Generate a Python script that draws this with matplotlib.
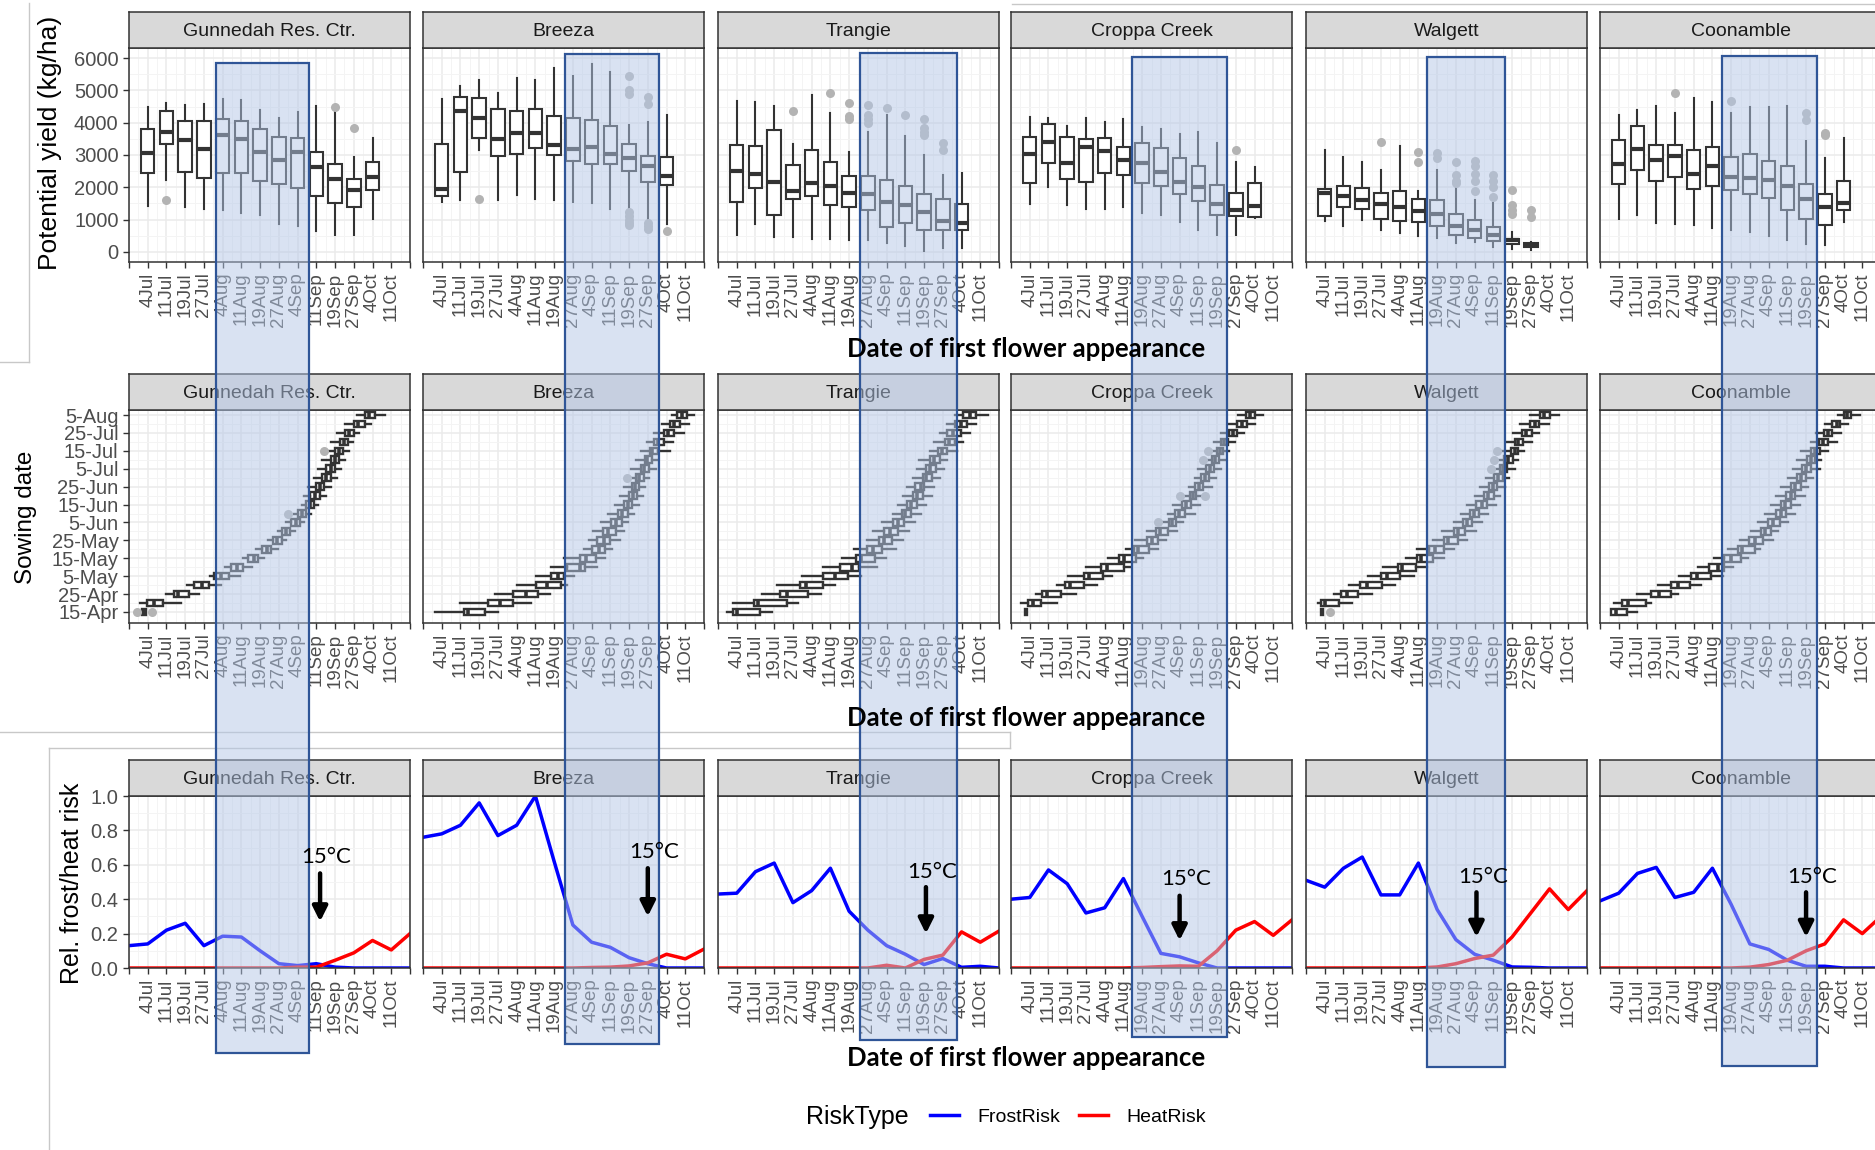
import matplotlib
matplotlib.use("Agg")
import matplotlib.pyplot as plt
import matplotlib.transforms as mtransforms
from matplotlib.patches import Rectangle, FancyArrowPatch
from matplotlib.lines import Line2D
import numpy as np

plt.rcParams['font.family'] = ['Liberation Sans', 'DejaVu Sans']

# ---------------- data ----------------
sites = ['Gunnedah Res. Ctr.', 'Breeza', 'Trangie', 'Croppa Creek', 'Walgett', 'Coonamble']
flower_dates = ['4Jul', '11Jul', '19Jul', '27Jul', '4Aug', '11Aug', '19Aug', '27Aug',
                '4Sep', '11Sep', '19Sep', '27Sep', '4Oct', '11Oct']
sowing_ticks = ['15-Apr', '25-Apr', '5-May', '15-May', '25-May', '5-Jun', '15-Jun',
                '25-Jun', '5-Jul', '15-Jul', '25-Jul', '5-Aug']
risk_types = ['FrostRisk', 'HeatRisk']

# potential yield boxes (kg/ha): (whisker low, q1, median, q3, whisker high), one per flowering date
gunnedah_yield = [(1420, 2430, 3050, 3800, 4500), (2240, 3340, 3720, 4360, 4620),
                  (1400, 2460, 3460, 4060, 4550), (1340, 2300, 3200, 4060, 4570),
                  (1310, 2430, 3620, 4120, 4730), (1210, 2430, 3480, 4060, 4700),
                  (1150, 2200, 3100, 3800, 4380), (860, 2100, 2840, 3570, 4140),
                  (800, 1990, 3080, 3520, 4340), (640, 1740, 2640, 3100, 4520),
                  (520, 1500, 2270, 2710, 4400), (520, 1400, 1910, 2250, 2950),
                  (1030, 1930, 2330, 2770, 3540)]
breeza_yield = [(1550, 1730, 1940, 3340, 4730), (1620, 2470, 4350, 4780, 5120),
                (3140, 3530, 4160, 4760, 5310), (1620, 2970, 3480, 4410, 4930),
                (1770, 3040, 3670, 4350, 5390), (1630, 3220, 3670, 4420, 5310),
                (1600, 3000, 3310, 4220, 5700), (1550, 2810, 3190, 4140, 5450),
                (1500, 2730, 3240, 4090, 5800), (1320, 2730, 3040, 3910, 5580),
                (1240, 2520, 2910, 3340, 3940), (985, 2160, 2650, 2960, 4030),
                (880, 2060, 2340, 2950, 4250)]
trangie_yield = [(540, 1550, 2500, 3310, 4670), (860, 1990, 2400, 3290, 4630),
                 (470, 1140, 2170, 3770, 4520), (470, 1630, 1890, 2700, 3340),
                 (410, 1730, 2140, 3150, 4860), (410, 1450, 2040, 2790, 4290),
                 (380, 1400, 1830, 2350, 3080), (380, 1290, 1790, 2350, 3700),
                 (280, 780, 1550, 2220, 4240), (180, 900, 1450, 2040, 3590),
                 (30, 690, 1240, 1780, 2990), (130, 690, 950, 1630, 2380),
                 (130, 670, 900, 1480, 2450)]
croppa_yield = [(1470, 2120, 3030, 3570, 4170), (2020, 2760, 3390, 3960, 4140),
                (1450, 2250, 2740, 3570, 3900), (1340, 2150, 3240, 3480, 4160),
                (1340, 2430, 3120, 3540, 4030), (1400, 2380, 2840, 3260, 4100),
                (1220, 2120, 2760, 3380, 3880), (1140, 2040, 2480, 3210, 3810),
                (930, 1790, 2170, 2920, 3640), (690, 1570, 2000, 2670, 3700),
                (520, 1140, 1470, 2070, 3360), (520, 1110, 1290, 1830, 2790),
                (1050, 1090, 1420, 2140, 2640)]
walgett_yield = [(960, 1110, 1830, 1960, 3150), (800, 1400, 1740, 2050, 2930),
                 (980, 1320, 1600, 1990, 2770), (690, 1030, 1480, 1830, 2550),
                 (600, 950, 1400, 1880, 3280), (500, 930, 1270, 1630, 1880),
                 (440, 800, 1170, 1600, 2550), (280, 540, 800, 1170, 2000),
                 (310, 440, 670, 980, 1620), (160, 340, 520, 780, 1530),
                 (100, 260, 360, 410, 620), (70, 160, 230, 290, 310)]
coonamble_yield = [(1030, 2090, 2710, 3460, 4240), (1140, 2530, 3180, 3900, 4400),
                   (900, 2190, 2860, 3310, 4520), (880, 2330, 2970, 3310, 4310),
                   (830, 1960, 2410, 3150, 4760), (740, 2050, 2670, 3260, 4650),
                   (670, 1910, 2330, 2950, 4290), (620, 1780, 2300, 3030, 4480),
                   (490, 1680, 2220, 2820, 4480), (360, 1310, 2040, 2670, 4520),
                   (240, 1030, 1630, 2090, 3440), (230, 830, 1400, 1780, 2900),
                   (930, 1310, 1500, 2190, 3520)]

# yield outliers: (flowering date number, kg/ha)
gunnedah_yield_out = [(2, 1600), (11, 4500), (12, 3850)]
breeza_yield_out = [(3, 1650), (11, 5450), (11, 5000), (11, 4900), (11, 1250), (11, 1100),
                    (11, 1000), (11, 900), (11, 850), (12, 4780), (12, 4570), (12, 900),
                    (12, 800), (12, 700), (13, 650)]
trangie_yield_out = [(4, 4370), (6, 4910), (7, 4600), (7, 4200), (7, 4100), (8, 4550),
                     (8, 4250), (8, 4100), (8, 4000), (9, 4450), (10, 4240), (11, 4100),
                     (11, 3830), (11, 3700), (11, 3620), (12, 3380), (12, 3150)]
croppa_yield_out = [(12, 3150)]
walgett_yield_out = [(4, 3410), (6, 3100), (6, 2790), (7, 3050), (7, 2900), (8, 2770),
                     (8, 2380), (8, 2200), (8, 2120), (9, 2800), (9, 2650), (9, 2400),
                     (9, 2200), (9, 1900), (10, 2380), (10, 2200), (10, 2000), (10, 1700),
                     (11, 1930), (11, 1450), (11, 1300), (11, 1190), (12, 1310), (12, 1090)]
coonamble_yield_out = [(4, 4930), (7, 4670), (11, 4290), (11, 4090), (12, 3670), (12, 3620)]

# flowering date (position on the date axis) per sowing date, 15-Apr .. 5-Aug every 5 days
gunnedah_sow = [(0.71, 0.71, 0.82, 0.93, 0.93), (0.60, 0.96, 1.32, 1.79, 2.80),
                (1.97, 2.40, 2.59, 3.20, 3.74), (3.09, 3.48, 3.89, 4.28, 4.92),
                (4.34, 4.54, 4.92, 5.36, 5.90), (5.14, 5.42, 5.79, 6.11, 6.54),
                (6.07, 6.37, 6.65, 6.87, 7.19), (6.76, 7.08, 7.34, 7.58, 7.95),
                (7.41, 7.69, 7.90, 8.16, 8.38), (7.95, 8.16, 8.38, 8.60, 8.88),
                (8.38, 8.66, 8.92, 9.14, 9.35), (8.81, 9.03, 9.24, 9.46, 9.74),
                (9.24, 9.46, 9.68, 9.89, 10.10), (9.35, 9.68, 9.94, 10.22, 10.54),
                (9.57, 10.00, 10.22, 10.43, 10.76), (9.89, 10.32, 10.54, 10.76, 11.08),
                (10.11, 10.54, 10.76, 10.97, 11.30), (10.32, 10.76, 10.97, 11.19, 11.51),
                (10.65, 10.97, 11.19, 11.40, 11.73), (10.76, 11.25, 11.47, 11.68, 11.94),
                (11.08, 11.55, 11.77, 11.99, 12.27), (11.55, 11.99, 12.20, 12.59, 12.92),
                (12.16, 12.59, 12.81, 13.13, 13.67)]
breeza_sow = [(0.65, 2.20, 2.41, 3.31, 4.02), (1.98, 3.47, 4.12, 4.80, 5.78),
              (3.82, 4.80, 5.51, 6.12, 6.80), (5.00, 6.02, 6.63, 7.35, 7.69),
              (6.02, 6.84, 7.20, 7.55, 8.06), (6.84, 7.69, 8.37, 8.67, 9.29),
              (7.55, 8.37, 8.71, 9.22, 9.69), (8.57, 9.04, 9.39, 9.69, 10.10),
              (8.88, 9.29, 9.65, 10.00, 10.50), (9.08, 9.59, 9.86, 10.31, 10.71),
              (9.49, 10.06, 10.31, 10.61, 10.92), (9.90, 10.41, 10.61, 10.92, 11.29),
              (10.27, 10.71, 10.92, 11.16, 11.53), (10.51, 11.02, 11.22, 11.43, 11.73),
              (10.71, 11.16, 11.33, 11.53, 11.84), (10.92, 11.37, 11.53, 11.78, 12.04),
              (11.12, 11.63, 11.78, 12.04, 12.45), (11.37, 11.84, 11.98, 12.24, 12.55),
              (11.63, 12.10, 12.24, 12.55, 13.16), (11.94, 12.35, 12.55, 12.86, 13.37),
              (12.35, 12.86, 13.06, 13.41, 13.94), (12.76, 13.16, 13.41, 13.73, 14.18),
              (13.27, 13.57, 13.82, 14.08, 14.49)]
trangie_sow = [(0.47, 0.82, 1.02, 2.24, 2.86), (0.82, 1.94, 2.14, 3.67, 4.29),
               (2.35, 3.33, 3.67, 4.80, 5.51), (3.16, 4.39, 4.69, 5.61, 6.22),
               (4.49, 5.61, 6.22, 6.94, 7.65), (5.61, 6.53, 7.14, 7.55, 8.47),
               (6.63, 7.35, 7.61, 8.37, 8.98), (7.24, 7.96, 8.27, 8.78, 9.49),
               (7.96, 8.57, 8.88, 9.29, 9.90), (8.27, 8.88, 9.18, 9.59, 10.20),
               (8.78, 9.33, 9.59, 9.94, 10.51), (9.33, 9.80, 10.00, 10.31, 10.82),
               (9.59, 10.10, 10.31, 10.61, 11.12), (9.90, 10.41, 10.61, 10.92, 11.43),
               (10.10, 10.51, 10.82, 11.02, 11.53), (10.41, 10.92, 11.12, 11.43, 11.84),
               (10.61, 11.12, 11.33, 11.63, 12.04), (10.71, 11.33, 11.53, 11.84, 12.24),
               (11.33, 11.73, 11.98, 12.24, 12.76), (11.53, 12.14, 12.35, 12.65, 13.06),
               (11.84, 12.24, 12.55, 12.96, 13.47), (12.24, 12.65, 12.96, 13.27, 13.78),
               (12.65, 13.06, 13.47, 13.78, 14.39)]
croppa_sow = [(0.76, 0.76, 0.82, 0.88, 0.88), (0.51, 0.92, 1.18, 1.59, 2.45),
              (1.33, 1.67, 1.94, 2.65, 3.47), (2.45, 2.90, 3.16, 3.92, 4.59),
              (3.06, 3.88, 4.18, 4.90, 5.41), (3.98, 4.80, 5.10, 6.02, 6.43),
              (5.20, 5.76, 6.02, 6.69, 7.04), (6.12, 6.57, 6.78, 7.35, 7.86),
              (6.63, 7.24, 7.55, 7.86, 8.27), (7.24, 7.76, 7.96, 8.37, 8.88),
              (8.06, 8.41, 8.61, 8.82, 9.18), (8.37, 8.73, 8.98, 9.29, 9.80),
              (8.67, 9.14, 9.35, 9.59, 10.10), (9.18, 9.55, 9.73, 9.90, 10.41),
              (9.49, 9.84, 10.04, 10.24, 10.71), (9.80, 10.16, 10.37, 10.57, 10.92),
              (10.00, 10.41, 10.61, 10.82, 11.22), (10.31, 10.71, 10.88, 11.12, 11.43),
              (10.51, 10.98, 11.16, 11.33, 11.63), (10.82, 11.22, 11.39, 11.59, 11.94),
              (11.22, 11.63, 11.84, 12.08, 12.45), (11.63, 12.08, 12.35, 12.61, 13.02),
              (12.14, 12.55, 12.76, 13.02, 13.47)]
walgett_sow = [(0.80, 0.80, 0.86, 0.93, 0.93), (0.65, 0.81, 1.02, 1.77, 2.44),
               (1.47, 1.87, 2.18, 2.79, 3.50), (2.28, 2.89, 3.26, 4.07, 4.73),
               (3.30, 4.01, 4.32, 5.03, 5.74), (4.11, 4.93, 5.13, 5.85, 6.46),
               (5.34, 5.95, 6.15, 6.76, 7.37), (5.95, 6.56, 6.86, 7.37, 7.88),
               (6.76, 7.37, 7.58, 8.09, 8.59), (7.27, 7.88, 8.09, 8.49, 9.10),
               (7.88, 8.39, 8.59, 8.84, 9.41), (8.29, 8.76, 8.96, 9.25, 9.71),
               (8.59, 9.10, 9.37, 9.65, 10.12), (9.00, 9.51, 9.71, 10.02, 10.33),
               (9.31, 9.78, 9.98, 10.22, 10.63), (9.61, 10.06, 10.26, 10.53, 10.83),
               (9.92, 10.33, 10.53, 10.73, 11.14), (10.12, 10.59, 10.79, 11.04, 11.34),
               (10.43, 10.94, 11.14, 11.34, 11.65), (10.73, 11.14, 11.34, 11.61, 12.06),
               (11.04, 11.55, 11.75, 12.06, 12.46), (11.45, 11.96, 12.22, 12.46, 12.97),
               (11.96, 12.51, 12.71, 13.03, 13.48)]
coonamble_sow = [(0.61, 0.61, 0.84, 1.43, 2.00), (0.75, 1.20, 1.50, 2.45, 2.71),
                 (2.00, 2.71, 3.16, 3.79, 4.18), (3.07, 3.79, 4.18, 4.82, 5.39),
                 (4.23, 4.86, 5.18, 5.93, 6.55), (5.21, 5.84, 6.29, 6.64, 7.09),
                 (6.10, 6.64, 7.00, 7.54, 7.89), (6.82, 7.36, 7.57, 8.25, 8.52),
                 (7.45, 7.98, 8.29, 8.70, 9.23), (8.07, 8.61, 8.79, 9.14, 9.50),
                 (8.43, 8.96, 9.23, 9.59, 10.04), (8.79, 9.41, 9.64, 9.95, 10.39),
                 (9.14, 9.68, 9.86, 10.21, 10.66), (9.41, 9.95, 10.18, 10.43, 10.93),
                 (9.68, 10.21, 10.43, 10.71, 11.11), (10.04, 10.54, 10.71, 11.02, 11.38),
                 (10.30, 10.79, 10.98, 11.29, 11.73), (10.54, 11.07, 11.25, 11.50, 11.82),
                 (10.75, 11.29, 11.46, 11.73, 12.18), (11.29, 11.68, 11.91, 12.18, 12.63),
                 (11.55, 11.96, 12.18, 12.39, 12.89), (12.00, 12.39, 12.63, 12.80, 13.25),
                 (12.71, 13.04, 13.21, 13.39, 13.88)]

# sowing outliers: (flowering position, sowing row)
gunnedah_sow_out = [(0.45, 0), (1.25, 0), (8.49, 11), (10.39, 18)]
breeza_sow_out = [(10.88, 15)]
trangie_sow_out = []
croppa_sow_out = [(7.86, 10), (9.02, 13), (10.37, 13), (10.24, 17), (10.51, 18)]
walgett_sow_out = [(1.30, 0), (9.86, 16), (10.02, 17), (10.22, 18)]
coonamble_sow_out = []

# relative frost / heat risk at positions 0..15 of the date axis
gunnedah_frost = [0.13, 0.14, 0.22, 0.26, 0.13, 0.185, 0.18, 0.10, 0.025, 0.014, 0.025, 0.005, 0, 0, 0, 0]
gunnedah_heat = [0, 0, 0, 0, 0, 0, 0, 0, 0, 0.005, 0.005, 0.045, 0.088, 0.16, 0.105, 0.20]
breeza_frost = [0.76, 0.78, 0.83, 0.96, 0.77, 0.83, 1.0, 0.62, 0.25, 0.15, 0.12, 0.06, 0.025, 0, 0, 0]
breeza_heat = [0, 0, 0, 0, 0, 0, 0, 0, 0, 0.003, 0.005, 0.012, 0.03, 0.08, 0.053, 0.11]
trangie_frost = [0.43, 0.435, 0.56, 0.61, 0.38, 0.45, 0.58, 0.33, 0.22, 0.13, 0.08, 0.02, 0.055, 0.004, 0.01, 0]
trangie_heat = [0, 0, 0, 0, 0, 0, 0, 0, 0, 0.016, 0, 0.05, 0.075, 0.21, 0.15, 0.215]
croppa_frost = [0.40, 0.41, 0.57, 0.49, 0.32, 0.35, 0.52, 0.30, 0.085, 0.065, 0.03, 0, 0, 0, 0, 0]
croppa_heat = [0, 0, 0, 0, 0, 0, 0, 0.003, 0.008, 0.012, 0.01, 0.10, 0.22, 0.27, 0.19, 0.28]
walgett_frost = [0.51, 0.47, 0.58, 0.645, 0.425, 0.425, 0.61, 0.34, 0.165, 0.08, 0.045, 0.006, 0.004, 0, 0, 0]
walgett_heat = [0, 0, 0, 0, 0, 0, 0, 0.006, 0.025, 0.055, 0.075, 0.18, 0.32, 0.46, 0.34, 0.45]
coonamble_frost = [0.39, 0.435, 0.55, 0.585, 0.41, 0.44, 0.58, 0.37, 0.14, 0.108, 0.045, 0.01, 0.01, 0, 0, 0]
coonamble_heat = [0, 0, 0, 0, 0, 0, 0, 0, 0.005, 0.02, 0.045, 0.10, 0.14, 0.28, 0.20, 0.30]

# highlighted flowering window (date-axis position) and 15 degC marker per site
window_start = [4.64, 7.58, 7.58, 6.46, 6.46, 6.5]
window_end = [9.6, 12.6, 12.76, 11.53, 10.6, 11.6]
temp15_date = [10.2, 12.0, 11.1, 9.0, 9.1, 11.0]

yield_boxes = [gunnedah_yield, breeza_yield, trangie_yield, croppa_yield, walgett_yield, coonamble_yield]
yield_out = [gunnedah_yield_out, breeza_yield_out, trangie_yield_out, croppa_yield_out,
             walgett_yield_out, coonamble_yield_out]
sow_boxes = [gunnedah_sow, breeza_sow, trangie_sow, croppa_sow, walgett_sow, coonamble_sow]
sow_out = [gunnedah_sow_out, breeza_sow_out, trangie_sow_out, croppa_sow_out,
           walgett_sow_out, coonamble_sow_out]
frost = [gunnedah_frost, breeza_frost, trangie_frost, croppa_frost, walgett_frost, coonamble_frost]
heat = [gunnedah_heat, breeza_heat, trangie_heat, croppa_heat, walgett_heat, coonamble_heat]

# ---------------- layout (pixels of the 1875x1150 canvas) ----------------
W, H = 1875, 1150
col_left = [129, 423, 718, 1011, 1306, 1600]
panel_w = 281
strip_h = 36
row_yield = (48, 262)
row_sow = (410, 623)
row_risk = (796, 968)
rect_top = [63, 54, 53, 57, 57, 56]
rect_bottom = [1053, 1044, 1040, 1037, 1067, 1066]

GRID = '#EBEBEB'
DARK = '#333333'
TICKTXT = '#4D4D4D'
XTICK_SIZE = 13.5
YTICK_SIZE = 14.5

fig = plt.figure(figsize=(W / 100, H / 100), dpi=100)


def make_panel(col, row, site):
    top, bottom = row
    ax = fig.add_axes([col_left[col] / W, 1 - bottom / H, panel_w / W, (bottom - top) / H])
    strip = fig.add_axes([col_left[col] / W, 1 - top / H, panel_w / W, strip_h / H])
    strip.set_facecolor('#D9D9D9')
    strip.set_xticks([])
    strip.set_yticks([])
    for s in strip.spines.values():
        s.set_color(DARK)
        s.set_linewidth(1.1)
    strip.text(0.5, 0.45, site, ha='center', va='center', fontsize=14, color='#1A1A1A',
               transform=strip.transAxes)
    for s in ax.spines.values():
        s.set_color(DARK)
        s.set_linewidth(1.1)
    ax.grid(which='major', color=GRID, lw=1.1)
    ax.grid(which='minor', color='#F4F4F4', lw=0.7)
    ax.set_axisbelow(True)
    return ax


def finish_axes(ax, col):
    ax.set_xlim(0, 15)
    ax.set_xticks(range(16))
    ax.set_xticklabels([''] + flower_dates + [''], rotation=90)
    ax.set_xticks(np.arange(0.5, 15, 1), minor=True)
    ax.tick_params(which='major', color=DARK, length=4, width=1, labelcolor=TICKTXT)
    ax.tick_params(which='minor', length=0)
    ax.tick_params(axis='x', labelsize=XTICK_SIZE)
    ax.tick_params(axis='y', labelsize=YTICK_SIZE)
    if col > 0:
        ax.tick_params(axis='y', which='both', left=False, labelleft=False)


def box_style(lw):
    return dict(showcaps=False, patch_artist=True,
                boxprops=dict(facecolor='white', edgecolor=DARK, linewidth=lw),
                whiskerprops=dict(color=DARK, linewidth=lw),
                flierprops=dict(marker='o', markerfacecolor='#B3B3B3', markeredgecolor='none',
                                markersize=6.5))


top_axes, risk_axes = [], []
handles = None
for i, site in enumerate(sites):
    # ---- row 1: potential yield
    ax = make_panel(i, row_yield, site)
    stats = []
    for k, (lo, q1, med, q3, hi) in enumerate(yield_boxes[i]):
        fl = [v for p, v in yield_out[i] if p == k + 1]
        stats.append(dict(whislo=lo, q1=q1, med=med, q3=q3, whishi=hi, fliers=fl))
    ax.bxp(stats, positions=range(1, len(stats) + 1), widths=0.72,
           medianprops=dict(color=DARK, linewidth=3.0), **box_style(1.5))
    finish_axes(ax, i)
    ax.set_ylim(-310, 6310)
    ax.set_yticks(range(0, 6001, 1000))
    ax.set_yticks(range(500, 6001, 1000), minor=True)
    top_axes.append(ax)

    # ---- row 2: sowing date vs flowering date
    ax = make_panel(i, row_sow, site)
    stats = []
    for r, (lo, q1, med, q3, hi) in enumerate(sow_boxes[i]):
        fl = [p for p, row in sow_out[i] if row == r]
        stats.append(dict(whislo=lo, q1=q1, med=med, q3=q3, whishi=hi, fliers=fl))
    try:
        ax.bxp(stats, positions=range(len(stats)), widths=0.74, orientation='horizontal',
               medianprops=dict(color=DARK, linewidth=2.6), **box_style(1.7))
    except TypeError:
        ax.bxp(stats, positions=range(len(stats)), widths=0.74, vert=False,
               medianprops=dict(color=DARK, linewidth=2.6), **box_style(1.7))
    finish_axes(ax, i)
    ax.set_ylim(-1.23, 22.56)
    ax.set_yticks(range(0, 23, 2))
    ax.set_yticklabels(sowing_ticks)
    ax.set_yticks(range(1, 23, 2), minor=True)

    # ---- row 3: frost / heat risk
    ax = make_panel(i, row_risk, site)
    lf, = ax.plot(range(16), frost[i], color='#0000FF', lw=2.5, label=risk_types[0])
    lh, = ax.plot(range(16), heat[i], color='#FF0000', lw=2.5, label=risk_types[1])
    handles = [lf, lh]
    finish_axes(ax, i)
    ax.set_ylim(0, 1)
    ax.set_yticks(np.arange(0, 1.01, 0.2))
    ax.set_yticklabels(['%.1f' % v for v in np.arange(0, 1.01, 0.2)])
    ax.set_yticks(np.arange(0.1, 1.0, 0.2), minor=True)
    risk_axes.append(ax)

# ---------------- axis titles ----------------
fig.text(50 / W, 1 - 143 / H, 'Potential yield (kg/ha)', rotation=90, ha='center', va='center',
         fontsize=19)
fig.text(26 / W, 1 - 517 / H, 'Sowing date', rotation=90, ha='center', va='center', fontsize=17.5)
fig.text(72 / W, 1 - 883 / H, 'Rel. frost/heat risk', rotation=90, ha='center', va='center',
         fontsize=18)
for yc in (349, 718, 1058):
    fig.text(1026 / W, 1 - yc / H, 'Date of first flower appearance', ha='center', va='center',
             fontsize=18.5, fontweight='bold', family=['Lato', 'DejaVu Sans'], zorder=11)

# ---------------- highlighted windows and 15 degC markers ----------------
for i in range(6):
    tr = mtransforms.blended_transform_factory(top_axes[i].transData, fig.transFigure)
    y0 = 1 - rect_bottom[i] / H
    fig.add_artist(Rectangle((window_start[i], y0), window_end[i] - window_start[i],
                             (rect_bottom[i] - rect_top[i]) / H, transform=tr,
                             facecolor=(0.706, 0.780, 0.906, 0.5), edgecolor='#2F5597',
                             linewidth=1.6, zorder=10))

arrow_tail = [0.55, 0.58, 0.47, 0.42, 0.44, 0.44]
arrow_tip = [0.27, 0.30, 0.20, 0.16, 0.18, 0.18]
label_y = [0.645, 0.675, 0.56, 0.52, 0.53, 0.53]
for i in range(6):
    ax = risk_axes[i]
    x = temp15_date[i]
    fig.add_artist(FancyArrowPatch((x, arrow_tail[i]), (x, arrow_tip[i]), transform=ax.transData,
                                   arrowstyle='-|>', mutation_scale=22, linewidth=3.2,
                                   color='black', shrinkA=0, shrinkB=0, zorder=12))
    fig.text(x + 0.35, label_y[i], '15°C', transform=ax.transData, ha='center', va='center',
             fontsize=16, family=['Lato', 'DejaVu Sans'], zorder=12)

# ---------------- legend ----------------
fig.text(806 / W, 1 - 1117 / H, 'RiskType', ha='left', va='center', fontsize=18)
fig.legend(handles, risk_types, loc='center left', bbox_to_anchor=(922 / W, 1 - 1117 / H),
           ncol=2, frameon=False, fontsize=14, handlelength=1.5, handletextpad=0.95,
           columnspacing=0.95, borderaxespad=0)

# ---------------- faint borders of the pasted screenshots ----------------
edge = dict(color='#C8C8C8', linewidth=1, transform=fig.transFigure, zorder=1)
for xs, ys in [((29, 29), (3, 362)), ((0, 29), (362, 362)), ((1012, 1875), (4, 4)),
               ((0, 1010), (732, 732)), ((1010, 1010), (732, 748)), ((49, 1010), (748, 748)),
               ((49, 49), (748, 1150))]:
    fig.add_artist(Line2D([x / W for x in xs], [1 - y / H for y in ys], **edge))

fig.savefig('out.png', dpi=100)
